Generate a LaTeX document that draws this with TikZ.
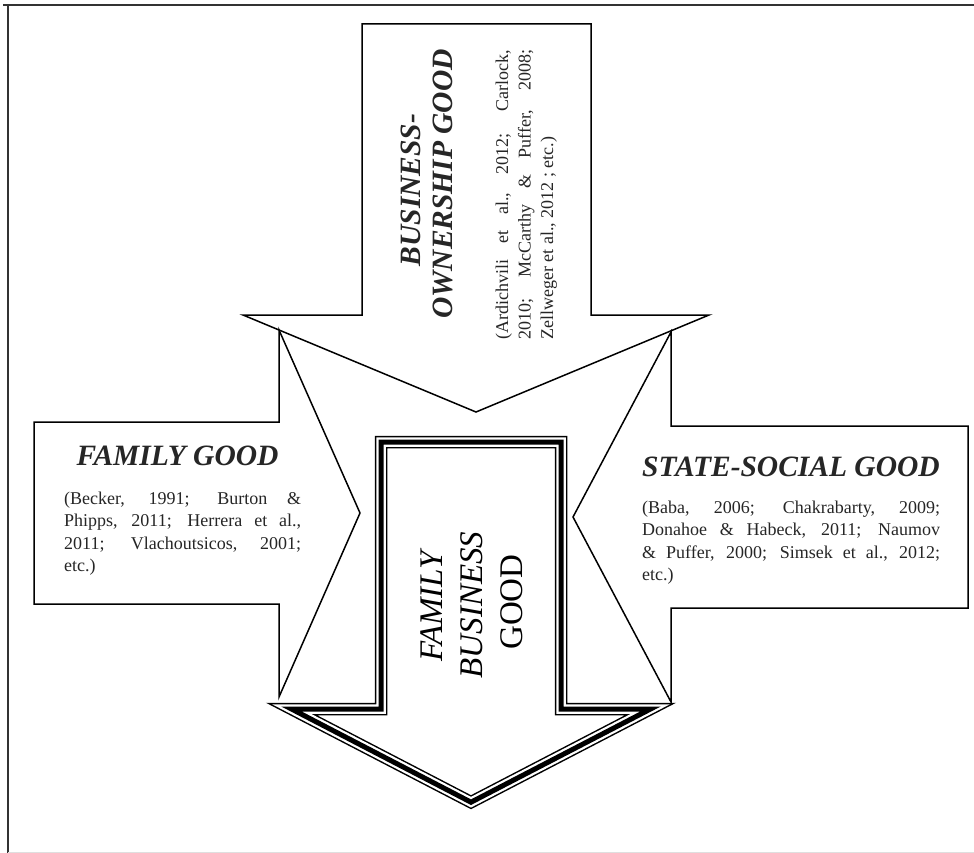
\documentclass[tikz,border=0pt]{standalone}
\usepackage{fontspec}
\setmainfont{Liberation Serif}
\definecolor{ink}{gray}{0.15}
\definecolor{framegray}{gray}{0.2}
\tikzset{
  blockarrow/.style={draw=black, fill=white, line width=1.5pt, line join=miter},
  frameline/.style={draw=framegray, line width=2pt},
  goodtitle/.style={inner sep=0pt, text=ink, font={\bfseries\itshape\fontsize{29.5}{32}\selectfont}},
  citation/.style={inner sep=0pt, text=ink, font={\fontsize{18}{22.5}\selectfont}},
  coretext/.style={inner sep=0pt, text=black, font={\fontsize{33}{40}\selectfont}}
}
\begin{document}
\begin{tikzpicture}[x=1pt, y=-1pt]
  \useasboundingbox (0,0) rectangle (974,853);

  % page frame
  \draw[frameline] (3,5) -- (974,5);
  \draw[frameline] (8,5) -- (8,853);
  \draw[draw=gray!25, line width=1pt] (8,852) -- (974,852);

  % business-ownership arrow (pointing down)
  \draw[blockarrow] (362,24) -- (591,24) -- (591,315) -- (709,315) -- (476,412)
        -- (243,315) -- (362,315) -- cycle;
  % family arrow (pointing right)
  \draw[blockarrow] (34,422) -- (279,422) -- (279,330) -- (360,513) -- (279,697)
        -- (279,604) -- (34,604) -- cycle;
  % state-social arrow (pointing left)
  \draw[blockarrow] (968,426) -- (671,426) -- (671,332) -- (573,517) -- (671,702)
        -- (671,608) -- (968,608) -- cycle;

  % central arrow with thin-thick-thin outline
  \def\corepath{(381,442) -- (561,442) -- (561,709) -- (650.5,709) -- (471,802.2)
        -- (291.5,709) -- (381,709) -- cycle}
  \fill[white] \corepath;
  \draw[black, line width=12.5pt, line join=miter] \corepath;
  \draw[white, line width=9.5pt, line join=miter] \corepath;
  \draw[black, line width=5pt, line join=miter] \corepath;

  % business-ownership labels
  \node[goodtitle, rotate=90, anchor=base] (bo1) at (420,190) {BUSINESS-};
  \node[goodtitle, rotate=90, anchor=base] (bo2) at (452,184) {OWNERSHIP GOOD};
  \node[citation, rotate=90, anchor=base west] (bocite) at (508,340)
    {\parbox[t]{290pt}{(Ardichvili et al., 2012; Carlock,\linebreak
     2010; McCarthy \& Puffer, 2008;\linebreak Zellweger et al., 2012 ; etc.)}};

  % family labels
  \node[goodtitle, anchor=base] (fam) at (177.5,465) {FAMILY GOOD};
  \node[citation, anchor=base west] (famcite) at (64,504)
    {\parbox[t]{237pt}{(Becker, 1991; Burton \&\linebreak
     Phipps, 2011; Herrera et al.,\linebreak
     2011; Vlachoutsicos, 2001;\linebreak etc.)}};

  % state-social labels
  \node[goodtitle, anchor=base west] (ss) at (642,476) {STATE-SOCIAL GOOD};
  \node[citation, anchor=base west] (sscite) at (642,513)
    {\parbox[t]{298pt}{(Baba, 2006; Chakrabarty, 2009;\linebreak
     Donahoe \& Habeck, 2011; Naumov\linebreak
     \& Puffer, 2000; Simsek et al., 2012;\linebreak etc.)}};

  % central labels
  \node[coretext, rotate=90, anchor=base] (fb1) at (442,605) {\textit{FAMILY}};
  \node[coretext, rotate=90, anchor=base] (fb2) at (482,605) {\textit{BUSINESS}};
  \node[coretext, rotate=90, anchor=base] (fb3) at (522,602) {GOOD};
\end{tikzpicture}
\end{document}
